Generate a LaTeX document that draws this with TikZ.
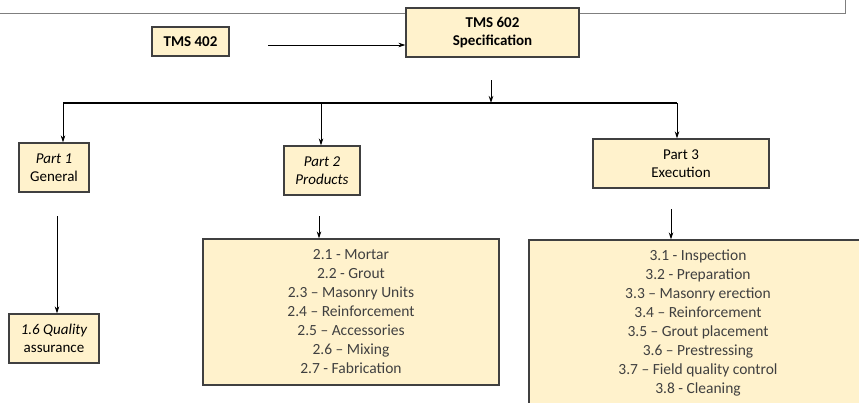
\documentclass[tikz,border=0pt]{standalone}
\usepackage{fontspec}
\setmainfont{Carlito}
\usepackage{xcolor}
\usetikzlibrary{arrows.meta,calc,positioning}

\definecolor{boxfill}{HTML}{FFF2CC}
\definecolor{boxline}{HTML}{404040}
\definecolor{listtext}{HTML}{404040}
\definecolor{frameline}{HTML}{7F7F7F}

\tikzset{
  partbox/.style={draw=boxline, fill=boxfill, line width=1.2pt, align=center,
    inner sep=0pt, font=\fontsize{15}{18}\selectfont},
  listbox/.style={draw=boxline, fill=boxfill, line width=1.2pt, align=center,
    inner sep=0pt, text=listtext, font=\fontsize{15.5}{19}\selectfont},
  link/.style={-{Stealth[length=7pt,width=4.5pt]}, line width=1pt},
}

\begin{document}
\begin{tikzpicture}[x=1pt, y=-1pt]

  \useasboundingbox (0,0) rectangle (859,402);
  \begin{scope}
  \clip (0,0) rectangle (859,402);

  % frame round the top
  \draw[frameline, line width=1pt] (0,13) -- (845,13) -- (845,-5);

  % top boxes
  \node[partbox, minimum width=173pt, minimum height=49pt] (spec) at (492.5,32.5)
    {\bfseries TMS 602\\\bfseries Specification};
  \node[partbox, minimum width=77pt, minimum height=29pt] (tms402) at (190.5,41.5)
    {\bfseries TMS 402};

  % parts
  \node[partbox, minimum width=70pt, minimum height=49pt] (part1) at (54,167.5)
    {\itshape Part 1\\General};
  \node[partbox, minimum width=76pt, minimum height=49pt] (part2) at (322,170.5)
    {\itshape Part 2\\\itshape Products};
  \node[partbox, minimum width=176pt, minimum height=49pt] (part3) at (681,163.5)
    {Part 3\\Execution};
  \node[partbox, minimum width=90pt, minimum height=49pt] (quality) at (54,338.5)
    {\itshape 1.6 Quality\\assurance};

  % lists
  \node[listbox, minimum width=296pt, minimum height=146pt] (list2) at (351,312)
    {2.1 - Mortar\\2.2 - Grout\\2.3 -- Masonry Units\\2.4 -- Reinforcement\\
     2.5 -- Accessories\\2.6 -- Mixing\\2.7 - Fabrication};
  \node[listbox, minimum width=338pt, minimum height=166pt] (list3) at (698,323)
    {3.1 - Inspection\\3.2 - Preparation\\3.3 -- Masonry erection\\3.4 -- Reinforcement\\
     3.5 -- Grout placement\\3.6 -- Prestressing\\3.7 -- Field quality control\\3.8 - Cleaning};

  % connectors
  \coordinate (from402) at (268,45);
  \draw[link] (from402) -- (from402 -| spec.west);

  \coordinate (specdrop) at (491,80);
  \coordinate (bus) at (491,103);
  \draw[link] (specdrop) -- (bus);
  \coordinate (busL) at (63,103);
  \coordinate (busM) at (321,103);
  \coordinate (busR) at (677,103);
  \draw[line width=2pt] (busL) -- (busR);
  \draw[link] (busL) -- (busL |- part1.north);
  \draw[link] (busM) -- (busM |- part2.north);
  \draw[link] (busR) -- (busR |- part3.north);

  \coordinate (p1out) at (57,216);
  \coordinate (p2out) at (319,216);
  \coordinate (p3out) at (671,209);
  \draw[link] (p1out) -- (p1out |- quality.north);
  \draw[link] (p2out) -- (p2out |- list2.north);
  \draw[link] (p3out) -- (p3out |- list3.north);
  \end{scope}

\end{tikzpicture}
\end{document}
